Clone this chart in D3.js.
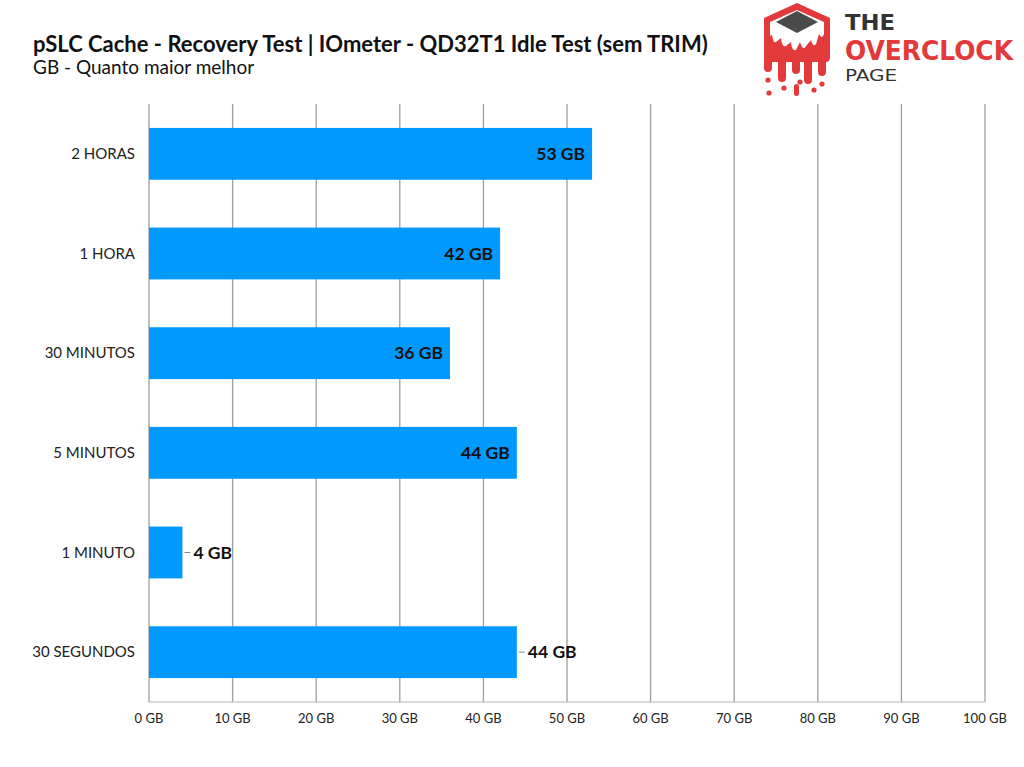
<!DOCTYPE html>
<html><head><meta charset="utf-8">
<script src="https://cdn.jsdelivr.net/npm/d3@7"></script>
<style>
html,body{margin:0;padding:0;background:#fff;}
svg{display:block;font-family:Lato,"Open Sans",sans-serif;}
</style></head>
<body><svg id="c" width="1024" height="767"></svg>
<script>
const categories = ["2 HORAS","1 HORA","30 MINUTOS","5 MINUTOS","1 MINUTO","30 SEGUNDOS"];
const values = [53,42,36,44,4,44];
const labelOutside = [false,false,false,false,true,true];
const xTicks = [0,10,20,30,40,50,60,70,80,90,100];
const title = "pSLC Cache - Recovery Test | IOmeter - QD32T1 Idle Test (sem TRIM)";
const subtitle = "GB - Quanto maior melhor";

const svg = d3.select("#c");
const m = {left:149, right:985, top:104, bottom:702};
const x = d3.scaleLinear().domain([0,100]).range([m.left,m.right]);
const y = d3.scaleBand().domain(categories).range([m.top,m.bottom]).paddingInner(0.48).paddingOuter(0.24);

svg.append("text").attr("x",33).attr("y",52).attr("font-size",22).attr("font-weight",700).attr("fill","#111").text(title);
svg.append("text").attr("x",33).attr("y",74).attr("font-size",19).attr("fill","#111").text(subtitle);

// grid
svg.append("g").selectAll("line").data(xTicks).join("line")
  .attr("x1",d=>x(d)).attr("x2",d=>x(d)).attr("y1",m.top).attr("y2",m.bottom)
  .attr("stroke","#9e9e9e").attr("stroke-width",1.3);
svg.append("line").attr("x1",m.left).attr("x2",m.right).attr("y1",m.bottom).attr("y2",m.bottom)
  .attr("stroke","#b5b5b5").attr("stroke-width",1);

// x tick labels
svg.append("g").selectAll("text").data(xTicks).join("text")
  .attr("x",d=>x(d)).attr("y",723).attr("text-anchor","middle").attr("font-size",13).attr("fill","#222")
  .text(d=>d+" GB");

// bars
svg.append("g").selectAll("rect").data(values).join("rect")
  .attr("x",x(0)).attr("y",(d,i)=>y(categories[i])).attr("width",d=>x(d)-x(0)).attr("height",y.bandwidth())
  .attr("fill","#0099ff");

// category labels
svg.append("g").selectAll("text").data(categories).join("text")
  .attr("x",135).attr("y",d=>y(d)+y.bandwidth()/2+5).attr("text-anchor","end").attr("font-size",15).attr("fill","#222")
  .text(d=>d);

// value labels
const lg = svg.append("g");
values.forEach((v,i)=>{
  const cy = y(categories[i])+y.bandwidth()/2;
  if(labelOutside[i]){
    lg.append("line").attr("x1",x(v)+2).attr("x2",x(v)+8).attr("y1",cy).attr("y2",cy).attr("stroke","#888").attr("stroke-width",1);
    lg.append("text").attr("x",x(v)+11).attr("y",cy+6).attr("font-size",17.5).attr("font-weight",700).attr("fill","#111").text(v+" GB");
  } else {
    lg.append("text").attr("x",x(v)-7).attr("y",cy+6).attr("text-anchor","end").attr("font-size",17.5).attr("font-weight",700).attr("fill","#111").text(v+" GB");
  }
});

// logo
const logo = svg.append("g");
const red = "#e2393b";
logo.append("path").attr("fill",red)
  .attr("d","M797,3 L830,18 L830,57 Q830,62 826,62 L826,72 Q826,76 822,76 Q818,76 818,72 L818,62 L812,62 L812,80 Q812,84 808,84 Q804,84 804,80 L804,62 L800,62 L800,70 Q800,74 796,74 Q792,74 792,70 L792,62 L786,62 L786,78 Q786,82 782,82 Q778,82 778,78 L778,62 L772,62 L772,68 Q772,72 768,72 Q764,72 764,68 L764,18 Z");
logo.append("path").attr("fill","#fff")
  .attr("d","M797,10 L824,22 L824,34 Q822,40 819,34 L816,44 Q813,48 811,40 L806,46 Q803,52 800,42 L796,50 Q792,52 791,42 L786,46 Q782,48 781,38 L776,42 Q773,44 772,34 Q770,40 770,30 L770,22 Z");
logo.append("path").attr("fill","#4a4a4a").attr("d","M797,11 L818,22 L797,33 L776,22 Z");
[[768,80],[784,88],[800,82],[814,90],[769,93],[822,84]].forEach(p=>{
  logo.append("circle").attr("cx",p[0]).attr("cy",p[1]).attr("r",2.6).attr("fill",red);
});
logo.append("rect").attr("x",794).attr("y",84).attr("width",5).attr("height",12).attr("rx",2.5).attr("fill",red);
const lf = "'DejaVu Sans Condensed','DejaVu Sans',sans-serif";
logo.append("text").attr("x",845).attr("y",30).attr("font-family",lf).attr("font-weight",700).attr("font-size",22)
  .attr("fill","#333").attr("textLength",50).attr("lengthAdjust","spacingAndGlyphs").text("THE");
logo.append("text").attr("x",845).attr("y",60).attr("font-family",lf).attr("font-weight",700).attr("font-size",26)
  .attr("fill",red).attr("textLength",168).attr("lengthAdjust","spacingAndGlyphs").text("OVERCLOCK");
logo.append("text").attr("x",845).attr("y",81).attr("font-family",lf).attr("font-weight",400).attr("font-size",16)
  .attr("fill","#333").attr("textLength",52).attr("lengthAdjust","spacingAndGlyphs").text("PAGE");
</script></body></html>
